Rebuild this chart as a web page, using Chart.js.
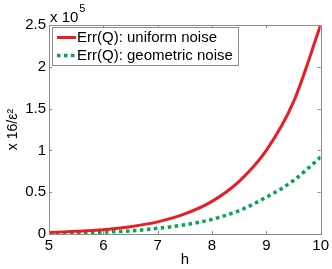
<!DOCTYPE html>
<html>
<head>
<meta charset="utf-8">
<script src="https://cdn.jsdelivr.net/npm/chart.js@4/dist/chart.umd.min.js"></script>
<style>
html,body{margin:0;padding:0;background:#fff;}
#wrap{position:relative;width:332px;height:269px;}
</style>
</head>
<body>
<div id="wrap"><canvas id="c" width="332" height="269"></canvas></div>
<script>
// h values
const hValues = [5, 5.5, 6, 6.5, 7, 7.5, 8, 8.5, 9, 9.5, 10];
// Err(Q) in units of 10^5 (x 16/eps^2)
const uniformNoise   = [0.018, 0.032, 0.052, 0.088, 0.145, 0.24, 0.39, 0.63, 1.0, 1.58, 2.5];
const geometricNoise = [0.008, 0.013, 0.022, 0.037, 0.068, 0.11, 0.175, 0.28, 0.44, 0.64, 0.92];
const seriesLabels = ['Err(Q): uniform noise', 'Err(Q): geometric noise'];
const xTicks = [5, 6, 7, 8, 9, 10];
const yTicks = [0, 0.5, 1, 1.5, 2, 2.5];

const FONT = 'Liberation Sans, Arial, Helvetica, sans-serif';
const AXIS = '#8c8c8c';
const RED = 'rgb(236,28,36)';
const GREEN = 'rgb(0,168,80)';

const toPts = arr => arr.map((v, i) => ({x: hValues[i], y: v}));

const frame = {
  id: 'frame',
  afterDatasetsDraw(chart) {
    const {ctx, chartArea: a, scales: {x, y}} = chart;
    ctx.save();
    ctx.strokeStyle = AXIS;
    ctx.lineWidth = 1;
    ctx.strokeRect(Math.round(a.left) + 0.5, Math.round(a.top) + 0.5,
      Math.round(a.right - a.left), Math.round(a.bottom - a.top));
    ctx.beginPath();
    xTicks.forEach(t => {
      const px = Math.round(x.getPixelForValue(t)) + 0.5;
      ctx.moveTo(px, a.bottom); ctx.lineTo(px, a.bottom - 3);
      ctx.moveTo(px, a.top); ctx.lineTo(px, a.top + 3);
    });
    yTicks.forEach(t => {
      const py = Math.round(y.getPixelForValue(t)) + 0.5;
      ctx.moveTo(a.left, py); ctx.lineTo(a.left + 3, py);
      ctx.moveTo(a.right, py); ctx.lineTo(a.right - 3, py);
    });
    ctx.stroke();

    // exponent label
    ctx.fillStyle = '#000';
    ctx.textBaseline = 'alphabetic';
    ctx.textAlign = 'left';
    ctx.font = '15px ' + FONT;
    ctx.fillText('x 10', a.left + 1, 22);
    const w = ctx.measureText('x 10').width;
    ctx.font = '11px ' + FONT;
    ctx.fillText('5', a.left + 2 + w, 12);

    // legend
    const lx = a.left + 3, ly = a.top + 2, lw = 186, lh = 38;
    ctx.fillStyle = '#fff';
    ctx.fillRect(lx, ly, lw, lh);
    ctx.strokeStyle = AXIS;
    ctx.strokeRect(Math.round(lx) + 0.5, Math.round(ly) + 0.5, lw, lh);
    const rows = [ly + 10.5, ly + 28.5];
    chart.data.datasets.forEach((ds, i) => {
      ctx.beginPath();
      ctx.strokeStyle = ds.borderColor;
      ctx.lineWidth = ds.borderWidth;
      ctx.setLineDash(ds.borderDash || []);
      ctx.moveTo(lx + 5, rows[i]); ctx.lineTo(lx + 24, rows[i]);
      ctx.stroke();
      ctx.setLineDash([]);
      ctx.fillStyle = '#000';
      ctx.font = '15px ' + FONT;
      ctx.textBaseline = 'middle';
      ctx.fillText(ds.label, lx + 25, rows[i] + 0.5);
    });
    ctx.restore();
  }
};

new Chart(document.getElementById('c'), {
  type: 'line',
  data: {
    datasets: [
      {label: seriesLabels[0], data: toPts(uniformNoise), borderColor: RED, borderWidth: 3,
       pointRadius: 0, cubicInterpolationMode: 'monotone', fill: false},
      {label: seriesLabels[1], data: toPts(geometricNoise), borderColor: GREEN, borderWidth: 3.5,
       borderDash: [3.5, 3.5], pointRadius: 0, cubicInterpolationMode: 'monotone', fill: false}
    ]
  },
  plugins: [frame],
  options: {
    responsive: false,
    animation: false,
    devicePixelRatio: 1,
    layout: {padding: {top: 25, right: 11, left: 0, bottom: 0}},
    plugins: {legend: {display: false}, tooltip: {enabled: false}},
    scales: {
      x: {
        type: 'linear', min: 5, max: 10,
        afterBuildTicks: s => { s.ticks = xTicks.map(v => ({value: v})); },
        afterFit: s => { s.height = 35; },
        grid: {display: false, drawTicks: false},
        border: {display: false},
        ticks: {color: '#000', font: {size: 15, family: FONT}, padding: 3, maxRotation: 0,
                callback: v => String(v)},
        title: {display: true, text: 'h', color: '#000', font: {size: 15, family: FONT}, padding: {top: -2, bottom: 0}}
      },
      y: {
        type: 'linear', min: 0, max: 2.5,
        afterBuildTicks: s => { s.ticks = yTicks.map(v => ({value: v})); },
        afterFit: s => { s.width = 49; },
        grid: {display: false, drawTicks: false},
        border: {display: false},
        ticks: {color: '#000', font: {size: 15, family: FONT}, padding: 3,
                callback: v => String(v)},
        title: {display: true, text: 'x 16/ε²', color: '#000', font: {size: 14, family: FONT}, padding: {top: 5, bottom: 0}}
      }
    }
  }
});
</script>
</body>
</html>
